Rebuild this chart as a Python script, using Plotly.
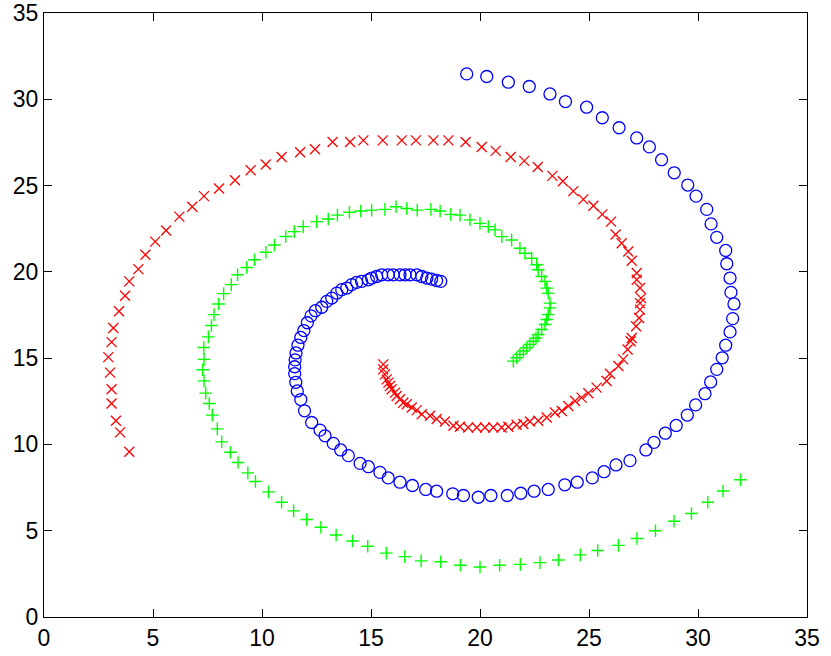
import plotly.graph_objects as go

# Cluster 1 (blue circles)
blue_x = [19.39, 20.31, 21.30, 22.26, 23.21, 23.92, 24.89, 25.61, 26.38, 27.19, 27.77, 28.33, 28.91, 29.53,
          29.91, 30.40, 30.60, 30.86, 31.27, 31.32, 31.47, 31.51, 31.65, 31.59, 31.47, 31.27, 31.11, 30.86,
          30.58, 30.32, 29.89, 29.51, 29.00, 28.50, 27.98, 27.61, 26.88, 26.24, 25.69, 25.15, 24.46, 23.89,
          23.13, 22.48, 21.87, 21.25, 20.50, 19.92, 19.24, 18.75, 18.01, 17.51, 16.90, 16.33, 15.79, 15.41,
          14.88, 14.50, 13.96, 13.61, 13.27, 12.89, 12.66, 12.28, 11.95, 11.78, 11.62, 11.55, 11.50, 11.50,
          11.52, 11.56, 11.65, 11.78, 11.92, 12.08, 12.25, 12.45, 12.74, 12.97, 13.20, 13.43, 13.66, 13.89,
          14.11, 14.34, 14.57, 14.88, 15.03, 15.26, 15.49, 15.79, 16.02, 16.33, 16.56, 16.79, 17.10, 17.33,
          17.56, 17.78, 18.01, 18.20]
blue_y = [31.47, 31.32, 30.99, 30.74, 30.31, 29.87, 29.54, 28.93, 28.35, 27.76, 27.24, 26.50, 25.74, 25.03,
          24.39, 23.62, 22.78, 22.00, 21.24, 20.47, 19.64, 18.81, 18.14, 17.29, 16.52, 15.75, 15.02, 14.35,
          13.62, 12.94, 12.29, 11.70, 11.10, 10.65, 10.12, 9.68, 9.06, 8.81, 8.42, 8.06, 7.81, 7.66,
          7.39, 7.29, 7.17, 7.04, 7.04, 6.94, 7.04, 7.14, 7.29, 7.39, 7.62, 7.81, 8.06, 8.38,
          8.71, 8.90, 9.35, 9.68, 10.06, 10.50, 10.83, 11.27, 11.95, 12.60, 13.10, 13.60, 14.10, 14.50,
          14.90, 15.30, 15.75, 16.20, 16.60, 17.05, 17.45, 17.75, 17.95, 18.29, 18.48, 18.77, 18.97, 19.06,
          19.26, 19.39, 19.45, 19.54, 19.64, 19.73, 19.83, 19.83, 19.83, 19.83, 19.83, 19.83, 19.83, 19.73,
          19.64, 19.58, 19.50, 19.45]

# Cluster 2 (red crosses)
red_x = [3.91, 3.49, 3.30, 3.10, 3.10, 3.03, 2.95, 3.10, 3.18, 3.44, 3.72, 3.91, 4.33, 4.65, 5.10, 5.60,
         6.21, 6.80, 7.34, 8.03, 8.76, 9.48, 10.17, 10.90, 11.75, 12.43, 13.24, 14.04, 14.65, 15.54, 16.41,
         17.06, 17.86, 18.55, 19.34, 20.08, 20.72, 21.41, 22.03, 22.65, 23.32, 23.80, 24.28, 24.74, 25.20,
         25.61, 26.01, 26.22, 26.50, 26.80, 26.96, 27.19, 27.19, 27.34, 27.39, 27.34, 27.34, 27.30, 27.16,
         26.96, 26.91, 26.77, 26.57, 26.35, 25.96, 25.81, 25.35, 24.97, 24.66, 24.36, 24.05, 23.75, 23.44,
         23.06, 22.67, 22.29, 21.99, 21.68, 21.30, 20.99, 20.61, 20.23, 19.85, 19.46, 19.08, 18.78, 18.39,
         18.01, 17.71, 17.33, 17.10, 16.87, 16.64, 16.48, 16.33, 16.18, 16.10, 15.95, 15.87, 15.80, 15.72,
         15.64, 15.56, 15.56]
red_y = [9.58, 10.70, 11.37, 12.37, 13.20, 14.16, 15.06, 15.93, 16.75, 17.72, 18.62, 19.45, 20.16, 20.99,
         21.75, 22.40, 23.20, 23.77, 24.39, 24.83, 25.31, 25.89, 26.22, 26.66, 26.93, 27.10, 27.52, 27.52,
         27.62, 27.62, 27.62, 27.62, 27.62, 27.62, 27.52, 27.24, 27.01, 26.66, 26.43, 26.08, 25.56, 25.25,
         24.68, 24.20, 23.83, 23.33, 22.91, 22.16, 21.66, 21.18, 20.64, 19.93, 19.54, 19.06, 18.48, 18.19,
         17.81, 17.33, 16.85, 16.17, 15.98, 15.50, 14.93, 14.54, 14.10, 13.68, 13.29, 12.97, 12.71, 12.52,
         12.23, 11.94, 11.85, 11.56, 11.37, 11.33, 11.18, 11.14, 11.02, 10.98, 10.98, 10.98, 10.98, 10.98,
         11.02, 11.08, 11.33, 11.47, 11.66, 11.75, 11.99, 12.14, 12.33, 12.42, 12.62, 12.81, 13.00, 13.20,
         13.39, 13.58, 13.77, 14.06, 14.35, 14.64]

# Cluster 3 (green plus)
green_x = [31.95, 31.15, 30.45, 29.70, 28.90, 28.05, 27.20, 26.35, 25.40, 24.60, 23.60, 22.75, 21.85, 20.90,
           20.00, 19.10, 18.20, 17.30, 16.55, 15.70, 14.85, 14.15, 13.40, 12.70, 12.05, 11.45, 10.90, 10.30,
           9.70, 9.35, 8.90, 8.55, 8.15, 7.95, 7.72, 7.58, 7.42, 7.34, 7.28, 7.34, 7.33, 7.54, 7.68, 7.80,
           8.01, 8.24, 8.59, 8.88, 9.30, 9.65, 10.18, 10.57, 11.09, 11.48, 11.89, 12.51, 13.04, 13.46, 14.01,
           14.53, 15.03, 15.64, 16.15, 16.64, 17.12, 17.75, 18.17, 18.66, 19.08, 19.54, 20.00, 20.38, 20.69,
           21.00, 21.45, 21.83, 22.06, 22.37, 22.60, 22.67, 22.83, 22.98, 23.06, 23.13, 23.21, 23.21, 23.13,
           23.06, 22.98, 22.83, 22.67, 22.57, 22.45, 22.29, 22.14, 21.99, 21.83, 21.68, 21.53]
green_y = [7.95, 7.30, 6.65, 6.00, 5.55, 5.00, 4.55, 4.15, 3.85, 3.60, 3.30, 3.15, 3.05, 3.00,
           2.90, 3.00, 3.20, 3.25, 3.50, 3.70, 4.10, 4.40, 4.75, 5.20, 5.65, 6.15, 6.65, 7.25,
           7.85, 8.35, 8.95, 9.55, 10.15, 10.90, 11.70, 12.37, 12.97, 13.68, 14.33, 14.93, 15.62, 16.23,
           16.89, 17.52, 18.14, 18.74, 19.26, 19.83, 20.25, 20.70, 21.14, 21.56, 22.05, 22.33, 22.62, 22.91,
           23.06, 23.29, 23.45, 23.53, 23.58, 23.62, 23.77, 23.67, 23.58, 23.62, 23.53, 23.33, 23.29, 23.01,
           22.81, 22.62, 22.43, 22.04, 21.85, 21.37, 21.08, 20.79, 20.41, 20.12, 19.73, 19.45, 19.06, 18.77,
           18.19, 17.91, 17.52, 17.24, 16.95, 16.66, 16.37, 16.17, 15.98, 15.79, 15.60, 15.41, 15.22, 15.02,
           14.83]

x_ticks = [0, 5, 10, 15, 20, 25, 30, 35]
y_ticks = [0, 5, 10, 15, 20, 25, 30, 35]

fig = go.Figure()
fig.add_trace(go.Scatter(x=blue_x, y=blue_y, mode="markers",
                         marker=dict(symbol="circle-open", size=12, color="#0000ff",
                                     line=dict(width=1.3, color="#0000ff"))))
fig.add_trace(go.Scatter(x=red_x, y=red_y, mode="markers",
                         marker=dict(symbol="x-thin-open", size=10, color="#ff0000",
                                     line=dict(width=1.3, color="#ff0000"))))
fig.add_trace(go.Scatter(x=green_x, y=green_y, mode="markers",
                         marker=dict(symbol="cross-thin-open", size=9, color="#00ff00",
                                     line=dict(width=1.4, color="#00ff00"))))

axis_common = dict(showgrid=False, zeroline=False, showline=True, linecolor="black", linewidth=1,
                   ticks="inside", ticklen=8, tickwidth=1, tickcolor="black", mirror="ticks",
                   tickfont=dict(family="Liberation Sans, Arial, sans-serif", size=23, color="black"),
                   automargin=False)
fig.update_layout(
    width=831, height=656,
    margin=dict(l=44, r=24, t=13, b=39, autoexpand=False),
    paper_bgcolor="white", plot_bgcolor="white",
    showlegend=False,
    xaxis=dict(range=[0, 35], tickvals=x_ticks, ticktext=[str(v) for v in x_ticks], **axis_common),
    yaxis=dict(range=[0, 35], tickvals=y_ticks, ticktext=[str(v) for v in y_ticks], **axis_common),
)
# Remove the default page margin so the figure fills the window exactly
fig.write_html("out.html",
               config={"displayModeBar": False},
               post_script="document.body.style.margin='0';document.body.style.overflow='hidden';")
